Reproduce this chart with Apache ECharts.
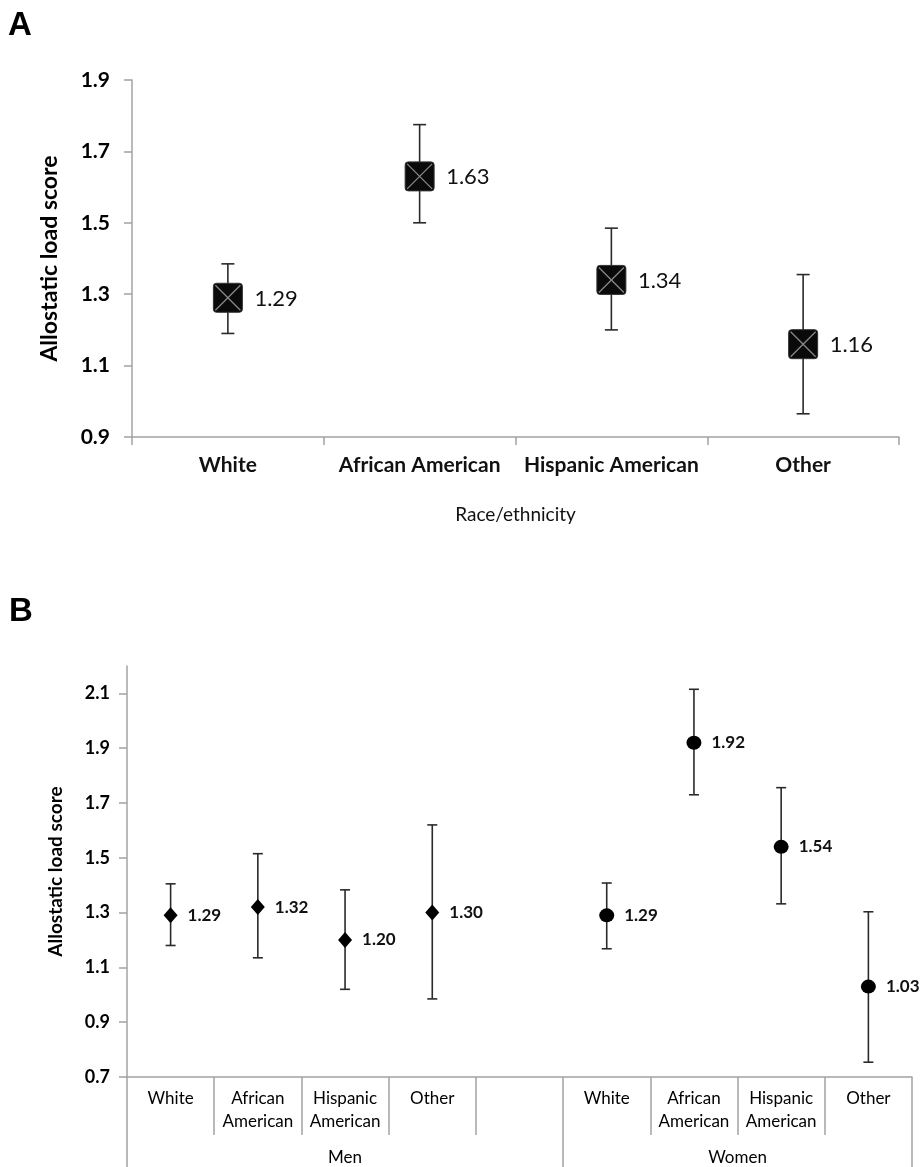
<!DOCTYPE html>
<html>
<head>
<meta charset="utf-8">
<script src="https://cdn.jsdelivr.net/npm/echarts@6/dist/echarts.min.js"></script>
<style>
html,body{margin:0;padding:0;background:#fff;}
#chart{width:921px;height:1167px;}
</style>
</head>
<body>
<div id="chart"></div>
<script>
// ---------- Panel A data ----------
const catsA = ['White', 'African American', 'Hispanic American', 'Other'];
const meanA = [1.29, 1.63, 1.34, 1.16];
const lowA  = [1.19, 1.50, 1.20, 0.965];
const highA = [1.385, 1.775, 1.485, 1.355];
const yTicksA = [0.9, 1.1, 1.3, 1.5, 1.7, 1.9];

// ---------- Panel B data ----------
const raceB = ['White', 'African\nAmerican', 'Hispanic\nAmerican', 'Other'];
const groupsB = ['Men', 'Women'];
const menMean  = [1.29, 1.32, 1.20, 1.30];
const menLow   = [1.18, 1.135, 1.02, 0.985];
const menHigh  = [1.405, 1.515, 1.383, 1.62];
const womenMean = [1.29, 1.92, 1.54, 1.03];
const womenLow  = [1.168, 1.73, 1.332, 0.754];
const womenHigh = [1.408, 2.115, 1.756, 1.303];
const yTicksB = [0.7, 0.9, 1.1, 1.3, 1.5, 1.7, 1.9, 2.1];

// derived
const catsB = raceB.concat(['']).concat(raceB);
const womenOffset = raceB.length + 1;
const groupBounds = [0, womenOffset, catsB.length];
const groupCenters = [(groupBounds[0] + groupBounds[1]) / 2, (groupBounds[1] + groupBounds[2]) / 2];

const AXIS = '#a3a3a3';
const INK = '#111';
const FONT = 'Lato';

function errRender(capHalf) {
  return function (params, api) {
    const x = api.value(0);
    const pLo = api.coord([x, api.value(1)]);
    const pHi = api.coord([x, api.value(2)]);
    const st = { stroke: '#2a2a2a', lineWidth: 1.6 };
    return {
      type: 'group',
      children: [
        { type: 'line', shape: { x1: pLo[0], y1: pLo[1], x2: pHi[0], y2: pHi[1] }, style: st },
        { type: 'line', shape: { x1: pHi[0] - capHalf, y1: pHi[1], x2: pHi[0] + capHalf, y2: pHi[1] }, style: st },
        { type: 'line', shape: { x1: pLo[0] - capHalf, y1: pLo[1], x2: pLo[0] + capHalf, y2: pLo[1] }, style: st }
      ]
    };
  };
}

function markerARender(params, api) {
  const p = api.coord([api.value(0), api.value(1)]);
  const h = 14.5;
  const xs = { stroke: '#8a8a8a', lineWidth: 1.3 };
  return {
    type: 'group',
    children: [
      { type: 'rect', shape: { x: p[0] - h, y: p[1] - h, width: 2 * h, height: 2 * h, r: 3 },
        style: { fill: '#0a0a0a', stroke: '#333', lineWidth: 1 } },
      { type: 'line', shape: { x1: p[0] - h + 2, y1: p[1] - h + 2, x2: p[0] + h - 2, y2: p[1] + h - 2 }, style: xs },
      { type: 'line', shape: { x1: p[0] + h - 2, y1: p[1] - h + 2, x2: p[0] - h + 2, y2: p[1] + h - 2 }, style: xs },
      { type: 'text', style: { text: api.value(1).toFixed(2), x: p[0] + h + 12, y: p[1] + 1,
        verticalAlign: 'middle', align: 'left', fill: INK, font: '22px ' + FONT } }
    ]
  };
}

const chart = echarts.init(document.getElementById('chart'), null, { renderer: 'canvas' });

const option = {
  backgroundColor: '#fff',
  animation: false,
  title: [
    { text: 'A', left: 8, top: 9, padding: 0,
      textStyle: { fontFamily: 'Liberation Sans', fontWeight: 'bold', fontSize: 33, color: '#000' } },
    { text: 'B', left: 9, top: 595, padding: 0,
      textStyle: { fontFamily: 'Liberation Sans', fontWeight: 'bold', fontSize: 33, color: '#000' } }
  ],
  grid: [
    { left: 132, right: 22, top: 80, height: 357 },
    { left: 127, right: 9, top: 666, height: 411 }
  ],
  xAxis: [
    {
      gridIndex: 0, type: 'category', data: catsA, boundaryGap: true,
      name: 'Race/ethnicity', nameLocation: 'middle', nameGap: 68,
      nameTextStyle: { fontFamily: FONT, fontSize: 19, color: INK },
      axisLine: { lineStyle: { color: AXIS, width: 1.5 } },
      axisTick: { show: true, alignWithLabel: false, length: 8, lineStyle: { color: AXIS, width: 1.5 } },
      axisLabel: { interval: 0, margin: 18, fontFamily: FONT, fontWeight: 'bold', fontSize: 21, color: INK },
      splitLine: { show: false }
    },
    {
      gridIndex: 1, type: 'category', data: catsB, boundaryGap: true,
      axisLine: { lineStyle: { color: AXIS, width: 1.5 } },
      axisTick: { show: true, interval: 0, alignWithLabel: false, length: 58, lineStyle: { color: AXIS, width: 1.5 } },
      axisLabel: { interval: 0, margin: 10, fontFamily: FONT, fontSize: 17, lineHeight: 23, color: '#000' },
      splitLine: { show: false }
    },
    {
      gridIndex: 1, type: 'value', min: 0, max: catsB.length, position: 'bottom', offset: 58,
      axisLine: { show: false },
      axisTick: { show: true, customValues: groupBounds, length: 32, lineStyle: { color: AXIS, width: 1.5 } },
      axisLabel: { customValues: groupCenters, margin: 14, fontFamily: FONT, fontSize: 17, color: '#000',
        formatter: function (v) { const i = groupCenters.indexOf(v); return i >= 0 ? groupsB[i] : ''; } },
      splitLine: { show: false }
    }
  ],
  yAxis: [
    {
      gridIndex: 0, type: 'value', min: 0.9, max: 1.9,
      name: 'Allostatic load score', nameLocation: 'middle', nameGap: 71, nameRotate: 90,
      nameTextStyle: { fontFamily: FONT, fontWeight: 'bold', fontSize: 23, color: '#000' },
      axisLine: { show: true, lineStyle: { color: AXIS, width: 1.5 } },
      axisTick: { show: true, customValues: yTicksA, length: 8, lineStyle: { color: AXIS, width: 1.5 } },
      axisLabel: { customValues: yTicksA, margin: 22, fontFamily: FONT, fontWeight: 'bold', fontSize: 21, color: '#000',
        formatter: function (v) { return v.toFixed(1); } },
      splitLine: { show: false }
    },
    {
      gridIndex: 1, type: 'value', min: 0.7, max: 2.2,
      name: 'Allostatic load score', nameLocation: 'middle', nameGap: 62, nameRotate: 90,
      nameTextStyle: { fontFamily: FONT, fontWeight: 'bold', fontSize: 19, color: '#000' },
      axisLine: { show: true, lineStyle: { color: AXIS, width: 1.5 } },
      axisTick: { show: true, customValues: yTicksB, length: 8, lineStyle: { color: AXIS, width: 1.5 } },
      axisLabel: { customValues: yTicksB, margin: 17, fontFamily: FONT, fontWeight: 'bold', fontSize: 18, color: '#000',
        formatter: function (v) { return v.toFixed(1); } },
      splitLine: { show: false }
    }
  ],
  series: [
    {
      type: 'custom', name: 'errA', xAxisIndex: 0, yAxisIndex: 0, z: 2,
      renderItem: errRender(6.5),
      encode: { x: 0, y: [1, 2] },
      data: catsA.map(function (c, i) { return [i, lowA[i], highA[i]]; })
    },
    {
      type: 'custom', name: 'meanA', xAxisIndex: 0, yAxisIndex: 0, z: 3,
      renderItem: markerARender,
      encode: { x: 0, y: 1 },
      data: catsA.map(function (c, i) { return [i, meanA[i]]; })
    },
    {
      type: 'custom', name: 'errMen', xAxisIndex: 1, yAxisIndex: 1, z: 2,
      renderItem: errRender(5),
      encode: { x: 0, y: [1, 2] },
      data: menMean.map(function (m, i) { return [i, menLow[i], menHigh[i]]; })
    },
    {
      type: 'custom', name: 'errWomen', xAxisIndex: 1, yAxisIndex: 1, z: 2,
      renderItem: errRender(5),
      encode: { x: 0, y: [1, 2] },
      data: womenMean.map(function (m, i) { return [womenOffset + i, womenLow[i], womenHigh[i]]; })
    },
    {
      type: 'scatter', name: 'Men', xAxisIndex: 1, yAxisIndex: 1, z: 3,
      symbol: 'diamond', symbolSize: [14, 16],
      itemStyle: { color: '#000', opacity: 1 },
      label: { show: true, position: 'right', distance: 10, fontFamily: FONT, fontWeight: 'bold', fontSize: 17, color: '#111',
        formatter: function (p) { return p.value[1].toFixed(2); } },
      data: menMean.map(function (m, i) { return [i, m]; })
    },
    {
      type: 'scatter', name: 'Women', xAxisIndex: 1, yAxisIndex: 1, z: 3,
      symbol: 'circle', symbolSize: [15, 14],
      itemStyle: { color: '#000', opacity: 1 },
      label: { show: true, position: 'right', distance: 10, fontFamily: FONT, fontWeight: 'bold', fontSize: 17, color: '#111',
        formatter: function (p) { return p.value[1].toFixed(2); } },
      data: womenMean.map(function (m, i) { return [womenOffset + i, m]; })
    }
  ]
};
chart.setOption(option);
</script>
</body>
</html>
